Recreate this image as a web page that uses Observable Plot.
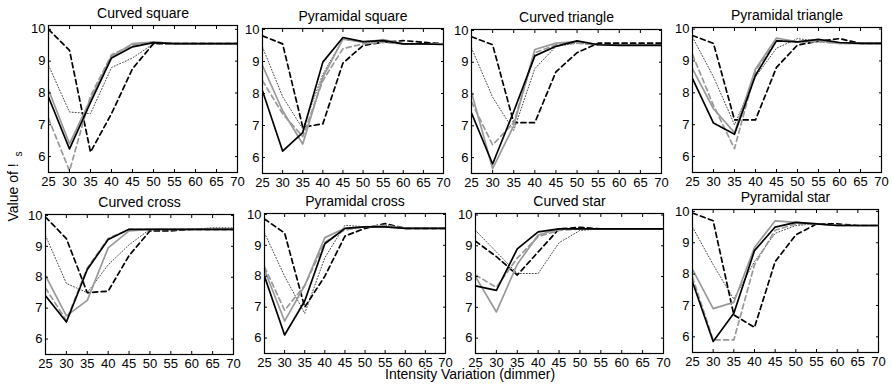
<!DOCTYPE html>
<html>
<head>
<meta charset="utf-8">
<script src="https://cdn.jsdelivr.net/npm/d3@7"></script>
<script src="https://cdn.jsdelivr.net/npm/@observablehq/plot@0.6"></script>
<style>
  html, body { margin: 0; padding: 0; background: #fff; }
  #wrap { position: relative; width: 892px; height: 385px; overflow: hidden; background: #fff;
          font-family: "Liberation Sans", Arial, Helvetica, sans-serif; color: #000; }
  #wrap svg { position: absolute; overflow: visible; }
  .ylab { position: absolute; font-size: 14px; white-space: nowrap; transform-origin: center center; }
  .ylab sub { font-size: 10px; vertical-align: -4px; margin-left: 3px; }
  .xlab { position: absolute; font-size: 14px; white-space: nowrap; }
</style>
</head>
<body>
<div id="wrap"></div>
<script>
// ---- data ----
const xs = [25, 30, 35, 40, 45, 50, 55, 60, 65, 70];
const yTicks = [6, 7, 8, 9, 10];
const titles = ["Curved square", "Pyramidal square", "Curved triangle", "Pyramidal triangle",
                "Curved cross", "Pyramidal cross", "Curved star", "Pyramidal star"];
const yLabel = "Value of ! ";
const yLabelSub = "s";
const xLabel = "Intensity Variation (dimmer)";

const solidBlack = [
  [7.87, 6.24, 7.70, 9.10, 9.45, 9.58, 9.55, 9.55, 9.55, 9.55],
  [8.08, 6.20, 6.78, 8.98, 9.75, 9.62, 9.65, 9.55, 9.55, 9.53],
  [7.40, 5.80, 7.45, 9.20, 9.50, 9.67, 9.55, 9.53, 9.53, 9.53],
  [8.45, 7.05, 6.70, 8.55, 9.63, 9.60, 9.68, 9.58, 9.55, 9.55],
  [7.40, 6.55, 8.25, 9.22, 9.55, 9.55, 9.55, 9.55, 9.55, 9.55],
  [8.00, 6.10, 7.20, 9.05, 9.55, 9.60, 9.60, 9.55, 9.55, 9.55],
  [7.70, 7.55, 8.90, 9.45, 9.55, 9.55, 9.55, 9.55, 9.55, 9.55],
  [7.75, 5.85, 6.75, 8.75, 9.50, 9.65, 9.60, 9.55, 9.55, 9.55]
];
const solidGray = [
  [8.10, 6.40, 7.80, 9.15, 9.55, 9.60, 9.55, 9.55, 9.55, 9.55],
  [8.87, 7.46, 6.42, 8.50, 9.70, 9.60, 9.68, 9.55, 9.55, 9.55],
  [8.05, 5.65, 7.00, 9.40, 9.60, 9.65, 9.55, 9.55, 9.55, 9.55],
  [8.75, 7.50, 6.75, 8.75, 9.72, 9.60, 9.65, 9.55, 9.55, 9.55],
  [8.05, 6.75, 7.25, 8.95, 9.50, 9.55, 9.55, 9.55, 9.55, 9.55],
  [8.20, 6.55, 7.70, 9.25, 9.55, 9.60, 9.60, 9.55, 9.55, 9.55],
  [8.00, 6.85, 8.40, 9.35, 9.55, 9.55, 9.55, 9.55, 9.55, 9.55],
  [8.15, 6.90, 7.10, 8.85, 9.70, 9.65, 9.60, 9.55, 9.55, 9.55]
];
const dashedGray = [
  [7.20, 5.55, 7.90, 9.20, 9.50, 9.60, 9.55, 9.55, 9.55, 9.55],
  [8.40, 7.37, 6.65, 8.40, 9.40, 9.55, 9.60, 9.55, 9.55, 9.55],
  [7.75, 6.40, 7.10, 9.30, 9.55, 9.60, 9.55, 9.55, 9.55, 9.55],
  [9.20, 7.60, 6.25, 8.70, 9.65, 9.60, 9.60, 9.55, 9.55, 9.55],
  [7.65, 6.60, 8.30, 9.25, 9.55, 9.55, 9.55, 9.55, 9.55, 9.55],
  [8.30, 6.90, 7.70, 9.10, 9.50, 9.60, 9.65, 9.55, 9.55, 9.55],
  [8.05, 7.65, 8.60, 9.30, 9.50, 9.55, 9.55, 9.55, 9.55, 9.55],
  [7.90, 5.90, 5.90, 8.30, 9.40, 9.60, 9.60, 9.55, 9.55, 9.55]
];
const dottedBlack = [
  [8.87, 7.40, 7.35, 8.80, 9.10, 9.55, 9.55, 9.55, 9.55, 9.55],
  [9.45, 7.90, 6.90, 8.60, 9.70, 9.60, 9.60, 9.55, 9.55, 9.55],
  [9.45, 7.90, 6.85, 8.80, 9.50, 9.60, 9.55, 9.55, 9.55, 9.55],
  [9.75, 8.50, 7.00, 8.50, 9.40, 9.70, 9.62, 9.55, 9.55, 9.55],
  [9.35, 7.80, 7.50, 8.40, 9.05, 9.55, 9.55, 9.55, 9.60, 9.60],
  [9.40, 8.00, 6.80, 8.60, 9.65, 9.60, 9.65, 9.55, 9.55, 9.55],
  [9.50, 8.80, 8.10, 8.10, 9.10, 9.50, 9.55, 9.55, 9.55, 9.55],
  [9.50, 8.30, 7.20, 8.40, 9.30, 9.55, 9.60, 9.55, 9.55, 9.55]
];
const dashedBlack = [
  [10.0, 9.34, 6.14, 7.35, 8.76, 9.55, 9.55, 9.55, 9.55, 9.55],
  [9.80, 9.55, 6.95, 7.05, 8.95, 9.50, 9.60, 9.65, 9.60, 9.55],
  [9.80, 9.55, 7.10, 7.10, 8.70, 9.30, 9.60, 9.60, 9.60, 9.60],
  [9.80, 9.55, 7.15, 7.15, 8.80, 9.50, 9.62, 9.70, 9.55, 9.55],
  [9.95, 9.25, 7.50, 7.55, 8.70, 9.50, 9.50, 9.55, 9.55, 9.55],
  [9.85, 9.40, 7.00, 8.00, 9.30, 9.55, 9.70, 9.55, 9.55, 9.55],
  [9.15, 8.65, 8.05, 8.80, 9.55, 9.60, 9.55, 9.55, 9.55, 9.55],
  [9.95, 9.70, 6.70, 6.30, 8.40, 9.25, 9.60, 9.60, 9.55, 9.55]
];

// ---- layout (frame boxes of each panel, in page pixels) ----
const frames = [
  {l: 48,  t: 25,  r: 237, b: 172, yTop: 10.12},
  {l: 262, t: 28,  r: 443, b: 173, yTop: 10.03},
  {l: 471, t: 29,  r: 661, b: 173, yTop: 10.03},
  {l: 692, t: 27,  r: 881, b: 172, yTop: 10.05},
  {l: 45,  t: 214, r: 233, b: 354, yTop: 10.03},
  {l: 264, t: 213, r: 445, b: 353, yTop: 10.03},
  {l: 475, t: 213, r: 663, b: 353, yTop: 10.05},
  {l: 692, t: 209, r: 878, b: 352, yTop: 10.06}
];
const mL = 30, mR = 14, mT = 26, mB = 24;
const font = "'Liberation Sans', Arial, Helvetica, sans-serif";

const styles = [
  {src: dottedBlack, stroke: "#333", strokeWidth: 0.9, dash: "1,2"},
  {src: dashedBlack, stroke: "#000", strokeWidth: 1.7, dash: "5,3.5"},
  {src: dashedGray,  stroke: "#999", strokeWidth: 1.7, dash: "5,3.5"},
  {src: solidGray,   stroke: "#999", strokeWidth: 1.7, dash: null},
  {src: solidBlack,  stroke: "#000", strokeWidth: 1.7, dash: null}
];

const wrap = document.getElementById("wrap");
const blank = () => "";
const intFmt = d => String(d);

frames.forEach((f, p) => {
  const w = f.r - f.l, h = f.b - f.t;
  const lineMarks = styles.map(s =>
    Plot.line(s.src[p], {
      x: (d, i) => xs[i], y: d => d,
      stroke: s.stroke, strokeWidth: s.strokeWidth,
      strokeDasharray: s.dash || undefined, clip: true
    })
  );
  const chart = Plot.plot({
    width: w + mL + mR, height: h + mT + mB,
    marginLeft: mL, marginRight: mR, marginTop: mT, marginBottom: mB,
    x: {domain: [25, 70]},
    y: {domain: [5.5, f.yTop]},
    style: {fontFamily: font, fontSize: "13px", color: "#000", background: "transparent", overflow: "visible"},
    marks: [
      ...lineMarks,
      Plot.axisX({ticks: xs, tickSize: 0, tickPadding: 4, tickFormat: intFmt, label: null, fontSize: 13}),
      Plot.axisX({ticks: xs, tickSize: -3, tickFormat: blank, label: null}),
      Plot.axisX({ticks: xs, anchor: "top", tickSize: -3, tickFormat: blank, label: null}),
      Plot.axisY({ticks: yTicks, tickSize: 0, tickPadding: 3, tickFormat: intFmt, label: null, fontSize: 13}),
      Plot.axisY({ticks: yTicks, tickSize: -3, tickFormat: blank, label: null}),
      Plot.axisY({ticks: yTicks, anchor: "right", tickSize: -3, tickFormat: blank, label: null}),
      Plot.frame({stroke: "#000", strokeWidth: 1.2}),
      Plot.text([titles[p]], {text: d => d, frameAnchor: "top", lineAnchor: "middle", dy: -12, fontSize: 14, fill: "#000"})
    ]
  });
  chart.style.left = (f.l - mL) + "px";
  chart.style.top = (f.t - mT) + "px";
  wrap.appendChild(chart);
});

const yl = document.createElement("div");
yl.className = "ylab";
yl.innerHTML = yLabel + "<sub>" + yLabelSub + "</sub>";
wrap.appendChild(yl);
const ylw = yl.offsetWidth, ylh = yl.offsetHeight;
yl.style.left = (14 - ylw / 2) + "px";
yl.style.top = (186 - ylh / 2) + "px";
yl.style.transform = "rotate(-90deg)";

const xl = document.createElement("div");
xl.className = "xlab";
xl.textContent = xLabel;
wrap.appendChild(xl);
xl.style.left = (470 - xl.offsetWidth / 2) + "px";
xl.style.top = (374 - xl.offsetHeight / 2) + "px";
</script>
</body>
</html>
